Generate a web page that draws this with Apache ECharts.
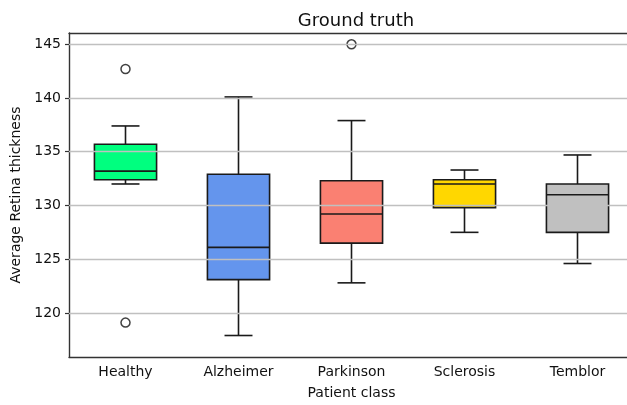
<!DOCTYPE html>
<html>
<head>
<meta charset="utf-8">
<script src="https://cdn.jsdelivr.net/npm/echarts@6/dist/echarts.min.js"></script>
<style>
  html, body { margin: 0; padding: 0; background: #fff; }
  #chart { width: 627px; height: 405px; }
</style>
</head>
<body>
<div id="chart"></div>
<script>
// patient classes and box colours
const categories = ['Healthy', 'Alzheimer', 'Parkinson', 'Sclerosis', 'Temblor'];
const boxColors = ['#00FF7F', '#6495ED', '#FA8072', '#FFD700', '#C0C0C0'];

// [lower whisker, Q1, median, Q3, upper whisker]
const boxStats = [
    [132.0, 132.4, 133.2, 135.7, 137.4],
    [117.9, 123.1, 126.1, 132.9, 140.1],
    [122.8, 126.5, 129.2, 132.3, 137.9],
    [127.5, 129.8, 132.0, 132.4, 133.3],
    [124.6, 127.5, 131.0, 132.0, 134.7]
];

// outliers: [category index, value]
const outliers = [
    [0, 142.7],
    [0, 119.1],
    [2, 145.0]
];

const yTicks = [120, 125, 130, 135, 140, 145];

const chart = echarts.init(document.getElementById('chart'));

const font = 'DejaVu Sans';

function renderBox(params, api) {
    const idx = api.value(0);
    const low = api.coord([idx, api.value(1)]);
    const q1 = api.coord([idx, api.value(2)]);
    const med = api.coord([idx, api.value(3)]);
    const q3 = api.coord([idx, api.value(4)]);
    const high = api.coord([idx, api.value(5)]);
    const bw = api.size([1, 0])[0] * 0.55;
    const cw = bw * 0.45;
    const x = low[0];
    const stroke = { stroke: '#1a1a1a', lineWidth: 1.6 };
    return {
        type: 'group',
        children: [
            { type: 'line', shape: { x1: x, y1: q3[1], x2: x, y2: high[1] }, style: stroke },
            { type: 'line', shape: { x1: x, y1: q1[1], x2: x, y2: low[1] }, style: stroke },
            { type: 'line', shape: { x1: x - cw / 2, y1: high[1], x2: x + cw / 2, y2: high[1] }, style: stroke },
            { type: 'line', shape: { x1: x - cw / 2, y1: low[1], x2: x + cw / 2, y2: low[1] }, style: stroke },
            {
                type: 'rect',
                shape: { x: x - bw / 2, y: q3[1], width: bw, height: q1[1] - q3[1] },
                style: { fill: boxColors[idx], stroke: '#1a1a1a', lineWidth: 1.6 }
            },
            { type: 'line', shape: { x1: x - bw / 2, y1: med[1], x2: x + bw / 2, y2: med[1] }, style: stroke }
        ]
    };
}

const boxData = boxStats.map((s, i) => [i].concat(s));

chart.setOption({
    animation: false,
    title: {
        text: 'Ground truth',
        left: 351,
        textAlign: 'center',
        top: 7,
        textStyle: { fontFamily: font, fontSize: 18, fontWeight: 'normal', color: '#111' }
    },
    grid: { left: 69, width: 565, top: 33, bottom: 48, outerBoundsMode: 'none', containLabel: false },
    xAxis: [{
        type: 'category',
        data: categories,
        name: 'Patient class',
        nameLocation: 'middle',
        nameGap: 29,
        nameTextStyle: { fontFamily: font, fontSize: 14, color: '#111' },
        axisLine: { lineStyle: { color: '#333', width: 1.4 } },
        axisTick: { alignWithLabel: true, length: 4, lineStyle: { color: '#333', width: 1.2 } },
        axisLabel: { fontFamily: font, fontSize: 14, color: '#111', margin: 8 },
        splitLine: { show: false }
    }, {
        type: 'category',
        data: categories,
        position: 'top',
        axisLine: { lineStyle: { color: '#333', width: 1.4 } },
        axisTick: { show: false },
        axisLabel: { show: false }
    }],
    yAxis: {
        type: 'value',
        min: 115.9,
        max: 146.05,
        name: 'Average Retina thickness',
        nameLocation: 'middle',
        nameGap: 42,
        nameTextStyle: { fontFamily: font, fontSize: 14, color: '#111' },
        axisLine: { show: true, lineStyle: { color: '#333', width: 1.4 } },
        axisTick: { show: true, length: 4, customValues: yTicks, lineStyle: { color: '#333', width: 1.2 } },
        axisLabel: { fontFamily: font, fontSize: 14, color: '#111', margin: 8, customValues: yTicks },
        splitLine: { show: false }
    },
    series: [
        {
            type: 'scatter',
            data: [],
            z: 1,
            markLine: {
                silent: true,
                symbol: 'none',
                label: { show: false },
                lineStyle: { color: '#c0c0c0', width: 1.4, type: 'solid' },
                data: yTicks.map(v => ({ yAxis: v }))
            }
        },
        {
            type: 'custom',
            renderItem: renderBox,
            data: boxData,
            encode: { x: 0, y: [1, 2, 3, 4, 5] },
            z: 3
        },
        {
            type: 'scatter',
            data: outliers,
            symbol: 'circle',
            symbolSize: 9,
            itemStyle: { color: '#fff', borderColor: '#111', borderWidth: 1.5 },
            z: 4
        }
    ]
});
</script>
</body>
</html>
